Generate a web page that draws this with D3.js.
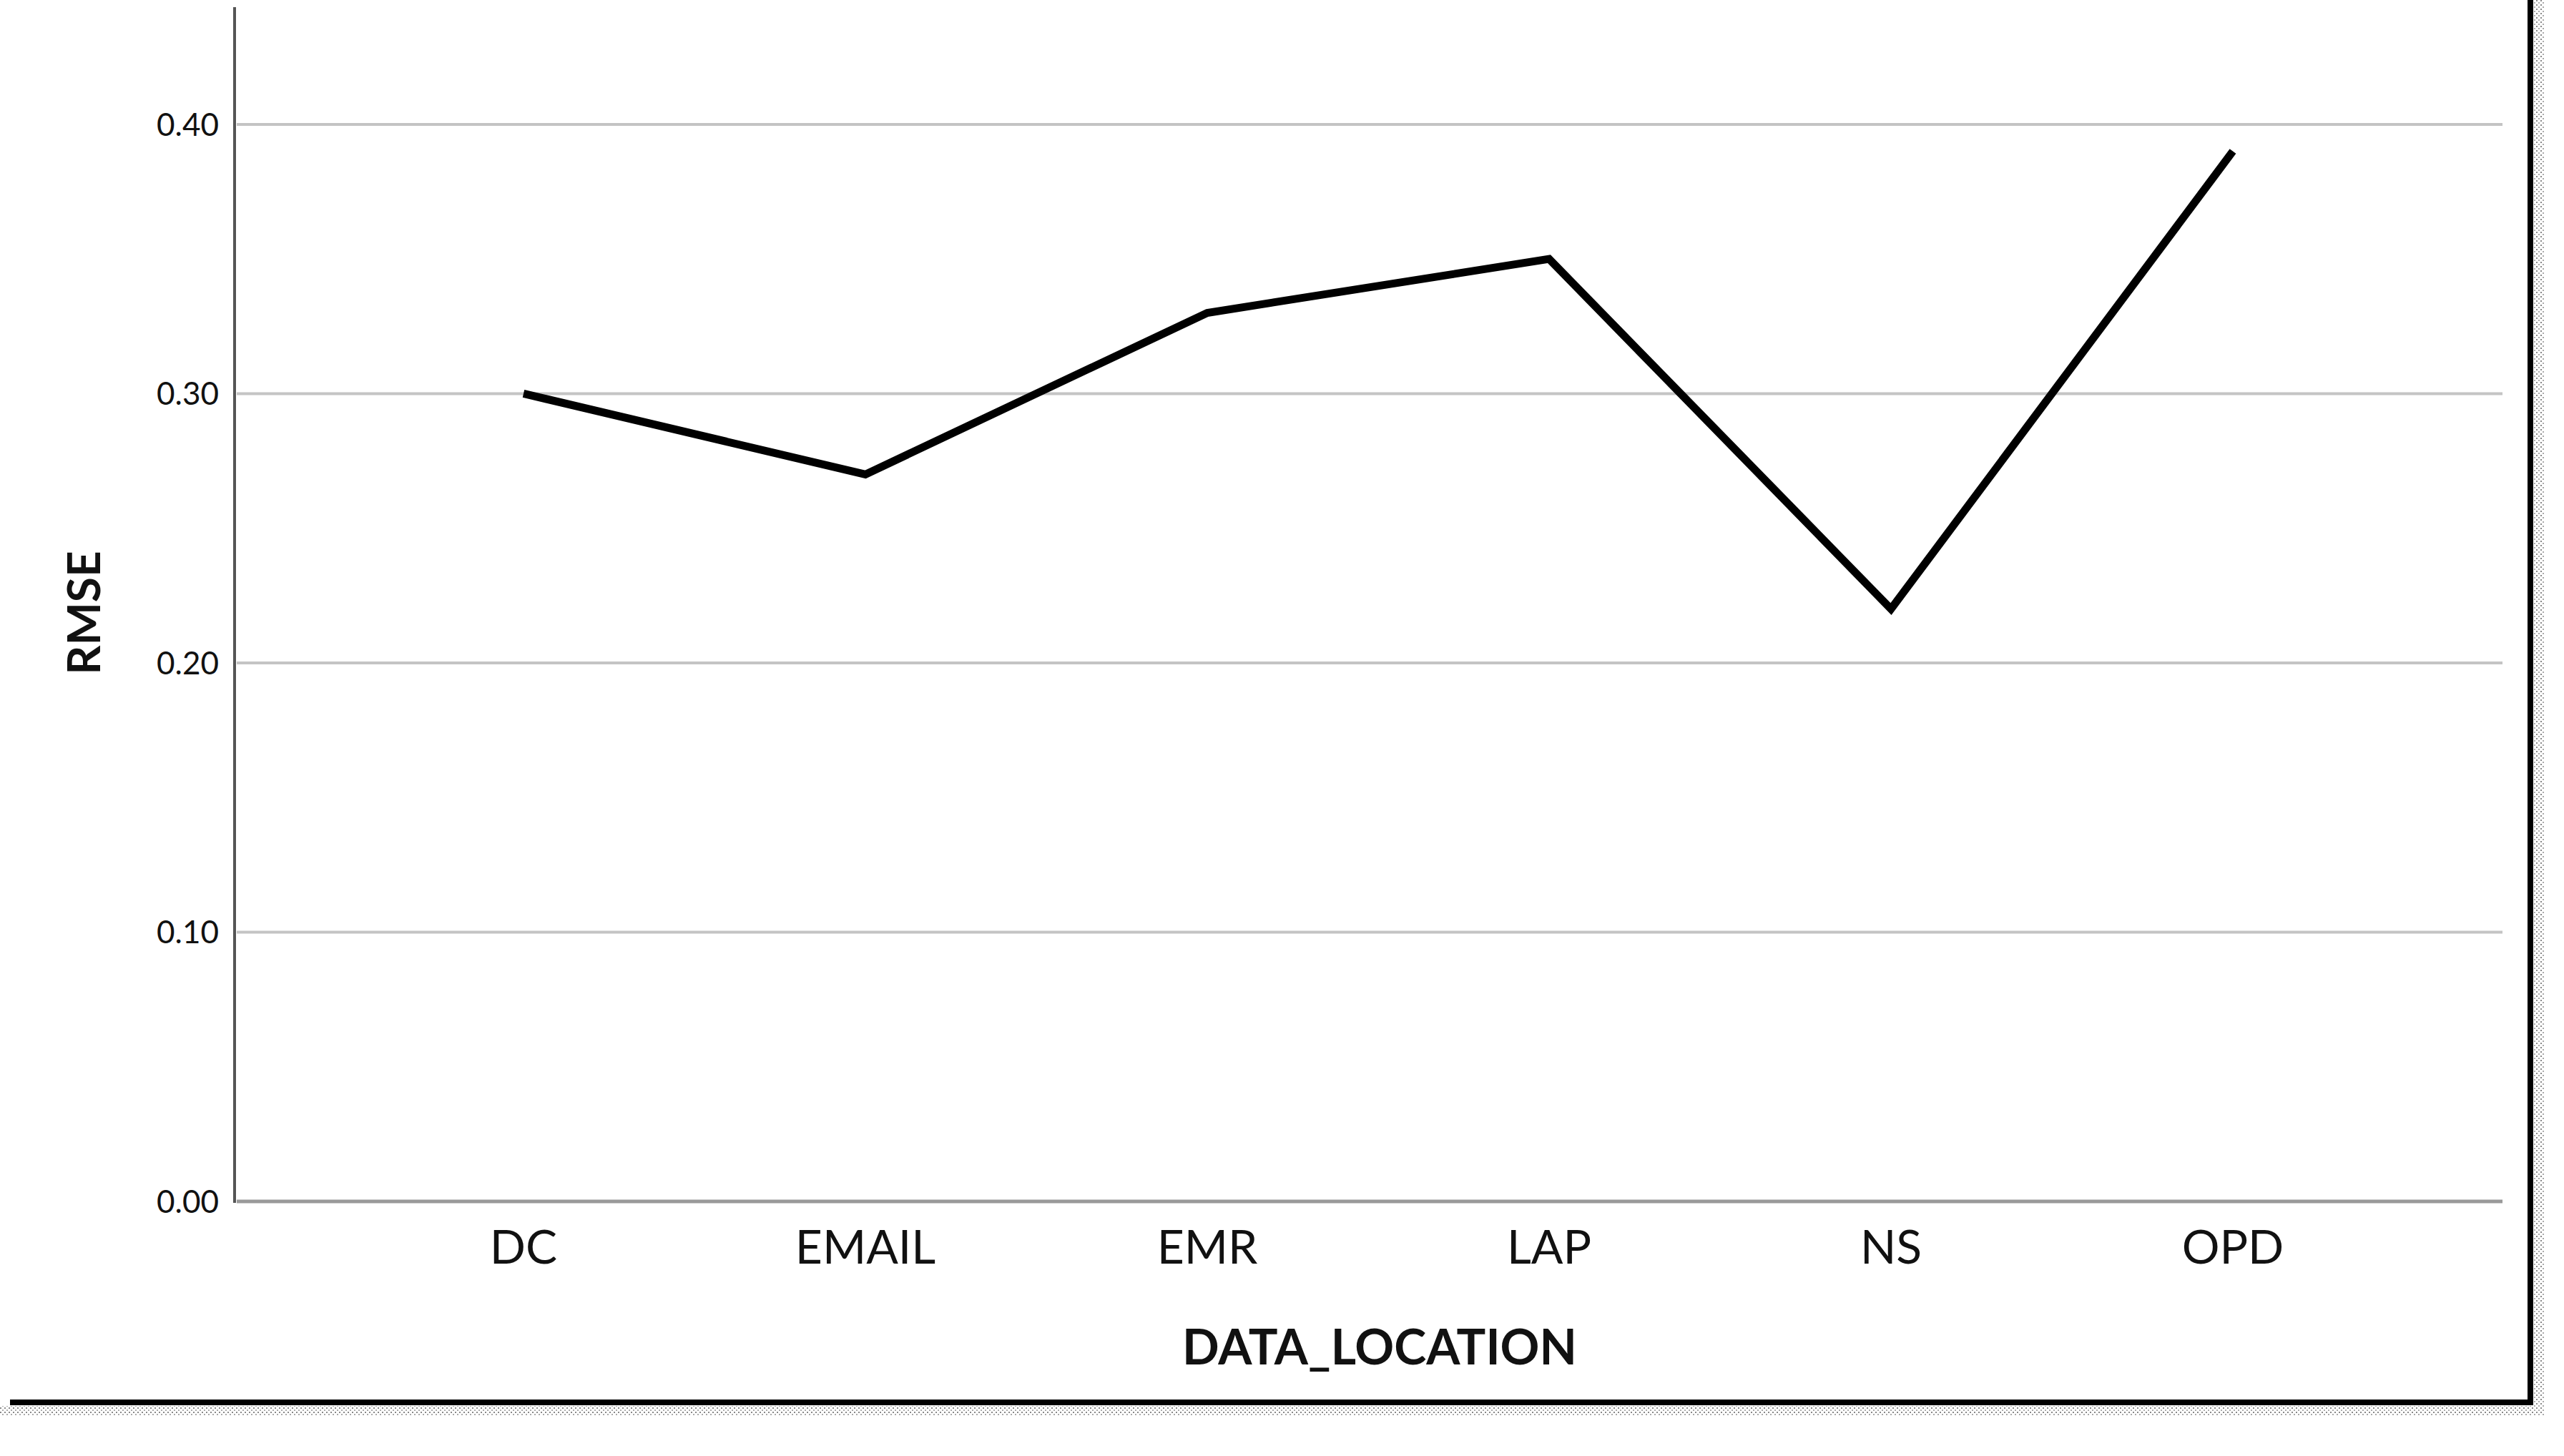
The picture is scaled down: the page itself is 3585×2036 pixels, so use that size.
<!DOCTYPE html>
<html><head><meta charset="utf-8">
<script src="https://cdn.jsdelivr.net/npm/d3@7"></script>
<style>body{margin:0;background:#fff}</style></head>
<body><svg id="c" width="3585" height="2036"></svg>
<script>
const categories = ["DC","EMAIL","EMR","LAP","NS","OPD"];
const rmse = [0.30,0.27,0.33,0.35,0.22,0.39];
const yTicks = [0,0.1,0.2,0.3,0.4];

const svg = d3.select("#c");
const font = "Lato, 'DejaVu Sans', sans-serif";
const x = d3.scalePoint().domain(categories).range([732,3122]);
const y = d3.scaleLinear().domain([0,0.443]).range([1680,12]);

// stippled shadow
const defs = svg.append("defs");
const pat = defs.append("pattern").attr("id","st").attr("width",6).attr("height",6).attr("patternUnits","userSpaceOnUse");
pat.append("rect").attr("width",6).attr("height",6).attr("fill","#fff");
pat.append("rect").attr("width",2).attr("height",2).attr("fill","#888");
pat.append("rect").attr("x",3).attr("y",3).attr("width",2).attr("height",2).attr("fill","#aaa");
svg.append("rect").attr("x",0).attr("y",1966).attr("width",3550).attr("height",14).attr("fill","url(#st)");
svg.append("rect").attr("x",3543).attr("y",0).attr("width",14).attr("height",1980).attr("fill","url(#st)");
svg.append("line").attr("x1",3538).attr("x2",3538).attr("y1",0).attr("y2",1965).attr("stroke","#000").attr("stroke-width",8);
svg.append("line").attr("x1",14).attr("x2",3542).attr("y1",1961).attr("y2",1961).attr("stroke","#000").attr("stroke-width",8);

// gridlines
svg.append("g").selectAll("line").data(yTicks).join("line")
  .attr("x1",331).attr("x2",3499).attr("y1",d=>y(d)).attr("y2",d=>y(d))
  .attr("stroke",d=>d===0?"#999":"#c4c4c4").attr("stroke-width",d=>d===0?5:4);

// y axis
svg.append("line").attr("x1",328).attr("x2",328).attr("y1",10).attr("y2",1682).attr("stroke","#555").attr("stroke-width",4);
svg.append("g").selectAll("text").data(yTicks).join("text")
  .attr("x",306).attr("y",d=>y(d)+16).attr("text-anchor","end")
  .attr("font-family",font).attr("font-size",44).attr("fill","#111").text(d=>d3.format(".2f")(d));

// x labels
svg.append("g").selectAll("text").data(categories).join("text")
  .attr("x",d=>x(d)).attr("y",1767).attr("text-anchor","middle")
  .attr("font-family",font).attr("font-size",66).attr("fill","#111").text(d=>d);

// line
svg.append("path").datum(categories.map((c,i)=>[c,rmse[i]]))
  .attr("d",d3.line().x(d=>x(d[0])).y(d=>y(d[1])))
  .attr("fill","none").attr("stroke","#000").attr("stroke-width",11).attr("stroke-linejoin","miter");

// titles
svg.append("text").attr("x",1929).attr("y",1908).attr("text-anchor","middle")
  .attr("font-family",font).attr("font-weight","bold").attr("font-size",68).attr("fill","#111").text("DATA_LOCATION");
svg.append("text").attr("transform","translate(140,857) rotate(-90)").attr("text-anchor","middle")
  .attr("font-family",font).attr("font-weight","bold").attr("font-size",64).attr("fill","#111").text("RMSE");
</script></body></html>
